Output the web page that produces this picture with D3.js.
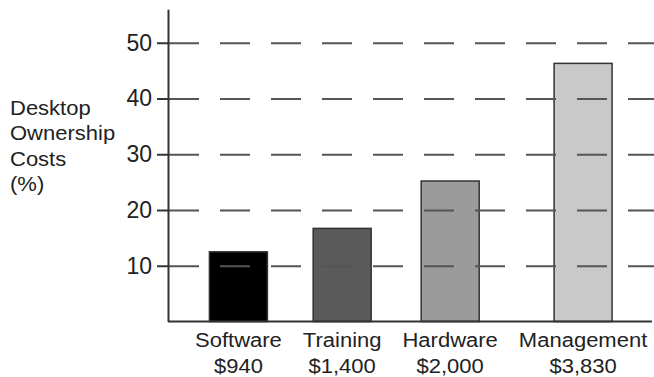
<!DOCTYPE html>
<html lang="en">
    <head>
        <meta charset="utf-8">
        <title>Desktop Ownership Costs</title>
        <script src="https://d3js.org/d3.v7.min.js"></script>
        <style type="text/css">
        body {
            margin: 0;
            background: #fff;
        }
        text {
            font-family: "Liberation Sans", Arial, sans-serif;
            fill: #222;
        }
        .label {
            font-size: 20px;
        }
        .tick text {
            font-size: 23px;
            fill: #222;
        }
        .axis path, .axis line {
            stroke: #333;
            stroke-width: 2px;
        }
        .grid line {
            stroke: #555;
            stroke-width: 2px;
            stroke-dasharray: 30 21;
        }
        .grid path {
            display: none;
        }
        .bars {
            stroke: #333;
            stroke-width: 1.5px;
        }
        </style>
    </head>
    <body>
    <div id="vis"></div>

    <script type="text/javascript">
        const categories = ["Software", "Training", "Hardware", "Management"];
        const costs = ["$940", "$1,400", "$2,000", "$3,830"];
        const shares = [12.5, 16.7, 25.2, 46.3];
        const yTicks = [10, 20, 30, 40, 50];
        const titleLines = ["Desktop", "Ownership", "Costs", "(%)"];
        const barFills = ["#000000", "#5a5a5a", "#9b9b9b", "#c9c9c9"];

        const width = 654;
        const height = 377;
        const axisX = 168;
        const baseY = 321.5;
        const stretch = 1.1;   // the lettering in the scan is a bit wide
        const barWidth = 58;

        const dataset = categories.map((c, i) => ({category: c, cost: costs[i], share: shares[i]}));

        const svg = d3.select("#vis")
                      .append("svg")
                      .attr("width", width)
                      .attr("height", height);

        const yScale = d3.scaleLinear()
                         .domain([0, 56])
                         .range([baseY, 9.3]);

        // widen text to match the reference, keep the widened length around
        function widen(sel) {
            sel.each(function() {
                const w = this.getComputedTextLength() * stretch;
                d3.select(this)
                  .attr("data-w", w)
                  .attr("textLength", w)
                  .attr("lengthAdjust", "spacingAndGlyphs");
            });
        }

        // category labels first, so their widths drive the x layout
        const labels = svg.append("g")
                          .selectAll("g")
                          .data(dataset)
                          .enter()
                          .append("g");

        labels.append("text")
              .attr("class", "label")
              .attr("text-anchor", "middle")
              .attr("y", 346.7)
              .text(d => d.category)
              .call(widen);

        labels.append("text")
              .attr("class", "label")
              .attr("text-anchor", "middle")
              .attr("y", 373)
              .text(d => d.cost)
              .call(widen);

        const blockWidths = [];
        labels.each(function() {
            let w = 0;
            d3.select(this).selectAll("text").each(function() {
                w = Math.max(w, +this.getAttribute("data-w"));
            });
            blockWidths.push(w);
        });

        const centers = [];
        let cursor = axisX + 27;
        blockWidths.forEach(w => {
            centers.push(cursor + w / 2);
            cursor += w + 21;
        });

        const xScale = d3.scaleOrdinal()
                         .domain(categories)
                         .range(centers);

        labels.selectAll("text").attr("x", function() {
            return xScale(d3.select(this.parentNode).datum().category);
        });

        svg.selectAll(".bars")
           .data(dataset)
           .enter()
           .append("rect")
           .attr("class", "bars")
           .attr("fill", (d, i) => barFills[i])
           .attr("x", d => xScale(d.category) - barWidth / 2)
           .attr("y", d => yScale(d.share))
           .attr("width", barWidth)
           .attr("height", d => baseY - yScale(d.share));

        // dashed gridlines sit on top of the bars
        svg.append("g")
           .attr("class", "grid")
           .attr("transform", "translate(" + (axisX + 1) + ",0)")
           .call(d3.axisLeft(yScale)
                   .tickValues(yTicks)
                   .tickSize(-(width - axisX))
                   .tickFormat(""));

        svg.append("g")
           .attr("class", "axis")
           .attr("transform", "translate(" + axisX + ",0)")
           .call(d3.axisLeft(yScale)
                   .tickValues(yTicks)
                   .tickSize(11)
                   .tickSizeOuter(0)
                   .tickPadding(5));

        svg.append("line")
           .attr("class", "axis")
           .attr("x1", axisX)
           .attr("x2", 652)
           .attr("y1", baseY)
           .attr("y2", baseY)
           .attr("stroke", "#333")
           .attr("stroke-width", 2);

        svg.append("g")
           .selectAll("text")
           .data(titleLines)
           .enter()
           .append("text")
           .attr("class", "label")
           .attr("x", 10)
           .attr("y", (d, i) => 115 + i * 25.3)
           .text(d => d)
           .call(widen);
    </script>
    </body>
</html>
